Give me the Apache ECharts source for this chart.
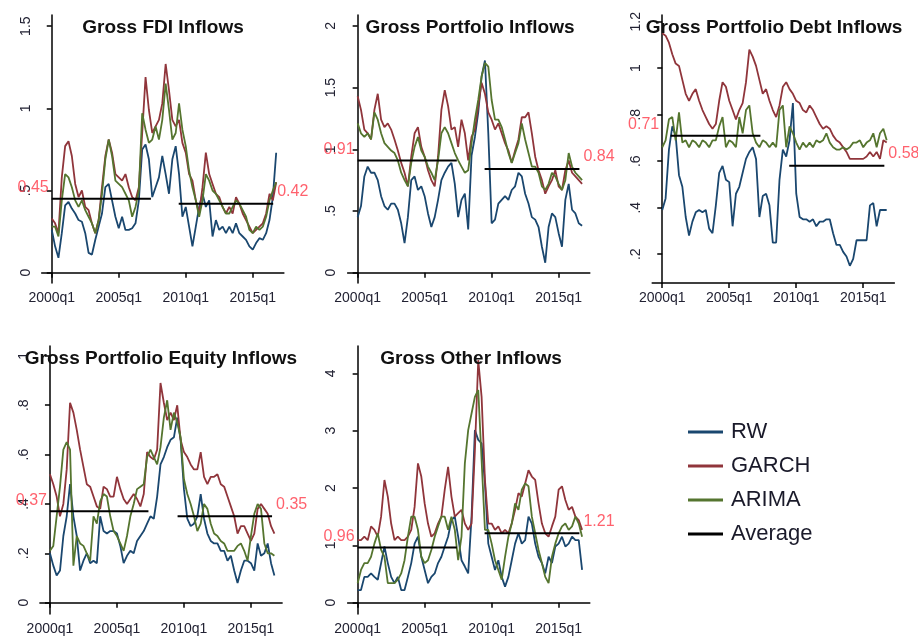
<!DOCTYPE html>
<html>
<head>
<meta charset="utf-8">
<script src="https://cdn.jsdelivr.net/npm/echarts@6/dist/echarts.min.js"></script>
<style>
  html, body { margin: 0; padding: 0; background: #fff; }
  #chart { width: 918px; height: 643px; }
</style>
</head>
<body>
<div id="chart"></div>
<script>
// quarter index 0 = 2000q1 ... 67 = 2016q4
const xTicks = [0, 20, 40, 60];

// Gross FDI Inflows
const fdiRW = [0.26,0.16,0.09,0.24,0.41,0.43,0.39,0.36,0.32,0.31,0.24,0.12,0.11,0.2,0.28,0.36,0.52,0.54,0.44,0.34,0.27,0.34,0.26,0.26,0.27,0.3,0.44,0.75,0.78,0.69,0.46,0.52,0.58,0.71,0.6,0.48,0.69,0.77,0.6,0.34,0.4,0.28,0.16,0.28,0.4,0.48,0.4,0.44,0.22,0.32,0.26,0.28,0.24,0.28,0.24,0.3,0.24,0.22,0.2,0.16,0.14,0.18,0.21,0.2,0.24,0.32,0.46,0.73];
const fdiGARCH = [0.33,0.3,0.24,0.58,0.77,0.8,0.71,0.54,0.46,0.5,0.4,0.38,0.3,0.24,0.32,0.52,0.71,0.81,0.73,0.6,0.58,0.56,0.6,0.52,0.46,0.44,0.52,0.85,1.19,0.99,0.85,0.89,0.93,1.03,1.27,1.11,0.93,0.89,0.93,0.79,0.73,0.6,0.56,0.44,0.36,0.52,0.73,0.6,0.54,0.48,0.46,0.4,0.36,0.4,0.36,0.46,0.42,0.36,0.32,0.28,0.24,0.26,0.28,0.3,0.36,0.48,0.44,0.55];
const fdiARIMA = [0.28,0.28,0.22,0.44,0.6,0.58,0.52,0.44,0.4,0.44,0.38,0.34,0.3,0.24,0.32,0.48,0.69,0.81,0.71,0.56,0.54,0.52,0.48,0.44,0.34,0.4,0.5,0.97,0.87,0.79,0.81,0.89,0.81,0.93,1.15,0.99,0.81,0.85,1.03,0.87,0.77,0.62,0.52,0.44,0.34,0.44,0.6,0.56,0.5,0.48,0.44,0.4,0.36,0.36,0.4,0.44,0.42,0.38,0.34,0.26,0.24,0.28,0.26,0.28,0.34,0.44,0.5,0.55];
const fdiTicks = [0, 0.5, 1, 1.5];

// Gross Portfolio Inflows
const portRW = [0.45,0.54,0.78,0.86,0.81,0.81,0.75,0.62,0.54,0.51,0.56,0.56,0.51,0.4,0.24,0.45,0.75,0.78,0.67,0.7,0.62,0.48,0.37,0.45,0.59,0.75,0.81,0.86,0.89,0.72,0.45,0.59,0.64,0.35,0.95,1.1,1.3,1.59,1.72,1.13,0.4,0.43,0.56,0.59,0.62,0.59,0.67,0.7,0.81,0.78,0.64,0.56,0.45,0.43,0.37,0.21,0.08,0.37,0.48,0.45,0.32,0.21,0.59,0.72,0.51,0.48,0.4,0.38];
const portGARCH = [1.43,1.32,1.16,1.13,1.08,1.32,1.45,1.24,1.18,1.21,1.16,1.08,0.99,0.89,0.81,0.7,0.94,1.13,1.18,1.02,0.94,0.83,0.75,0.7,0.94,1.32,1.48,1.35,1.16,1.18,1.02,1.24,1.13,0.91,1.1,1.16,1.35,1.54,1.45,1.3,1.24,1.16,1.21,1.13,1.05,0.99,0.89,0.99,1.08,1.26,1.26,1.3,1.13,0.94,0.83,0.75,0.64,0.7,0.75,0.83,0.7,0.67,0.83,0.91,0.81,0.78,0.75,0.72];
const portARIMA = [1.21,1.13,1.1,1.13,1.08,1.3,1.24,1.13,1.05,1.02,0.99,0.97,0.91,0.81,0.75,0.7,0.89,1.02,1.1,0.99,0.94,0.86,0.81,0.75,0.91,1.13,1.18,1.13,1.05,0.97,0.91,0.86,0.81,0.83,1.05,1.24,1.4,1.59,1.7,1.67,1.4,1.24,1.24,1.18,1.08,0.97,0.89,0.97,1.05,1.21,1.08,0.97,0.86,0.86,0.81,0.7,0.67,0.72,0.81,0.78,0.72,0.67,0.75,0.97,0.86,0.81,0.78,0.75];
const portTicks = [0, 0.5, 1, 1.5, 2];

// Gross Portfolio Debt Inflows
const debtRW = [0.39,0.44,0.65,0.75,0.71,0.54,0.49,0.36,0.28,0.34,0.38,0.39,0.38,0.39,0.31,0.29,0.41,0.55,0.58,0.52,0.51,0.32,0.46,0.49,0.55,0.61,0.64,0.66,0.61,0.36,0.45,0.46,0.41,0.25,0.25,0.52,0.65,0.62,0.69,0.85,0.46,0.36,0.35,0.35,0.34,0.35,0.32,0.34,0.34,0.35,0.35,0.29,0.24,0.24,0.21,0.19,0.15,0.18,0.26,0.26,0.26,0.26,0.41,0.42,0.32,0.39,0.39,0.39];
const debtGARCH = [1.15,1.14,1.11,1.06,1.02,1.01,0.95,0.89,0.86,0.89,0.91,0.86,0.82,0.79,0.76,0.74,0.76,0.86,0.94,0.92,0.86,0.82,0.78,0.82,0.85,0.94,1.08,1.05,1.01,0.95,0.89,0.91,0.86,0.82,0.79,0.84,0.92,0.94,0.91,0.89,0.86,0.85,0.82,0.81,0.84,0.82,0.79,0.76,0.74,0.75,0.74,0.71,0.69,0.68,0.66,0.64,0.61,0.61,0.61,0.61,0.61,0.62,0.64,0.62,0.64,0.61,0.69,0.68];
const debtARIMA = [0.66,0.69,0.78,0.79,0.69,0.81,0.68,0.69,0.66,0.69,0.68,0.66,0.69,0.68,0.66,0.69,0.69,0.75,0.79,0.66,0.69,0.68,0.66,0.79,0.72,0.82,0.84,0.72,0.68,0.66,0.69,0.68,0.66,0.68,0.66,0.82,0.84,0.66,0.75,0.72,0.68,0.65,0.68,0.66,0.68,0.66,0.69,0.68,0.69,0.72,0.68,0.66,0.65,0.65,0.66,0.65,0.66,0.68,0.68,0.69,0.66,0.68,0.69,0.72,0.66,0.72,0.74,0.69];
const debtTicks = [0.2, 0.4, 0.6, 0.8, 1, 1.2];

// Gross Portfolio Equity Inflows
const equityRW = [0.2,0.15,0.11,0.13,0.27,0.35,0.48,0.35,0.27,0.13,0.17,0.2,0.16,0.17,0.16,0.35,0.29,0.28,0.29,0.29,0.28,0.23,0.16,0.19,0.21,0.2,0.25,0.27,0.29,0.32,0.35,0.34,0.43,0.56,0.59,0.63,0.66,0.67,0.75,0.66,0.46,0.34,0.31,0.32,0.35,0.44,0.34,0.28,0.25,0.24,0.24,0.21,0.21,0.17,0.19,0.13,0.08,0.13,0.17,0.17,0.16,0.13,0.24,0.19,0.2,0.24,0.16,0.11];
const equityGARCH = [0.52,0.48,0.43,0.35,0.4,0.54,0.81,0.77,0.7,0.62,0.55,0.48,0.47,0.43,0.39,0.38,0.47,0.46,0.43,0.43,0.51,0.46,0.42,0.4,0.42,0.44,0.42,0.39,0.44,0.61,0.59,0.58,0.62,0.89,0.81,0.74,0.77,0.74,0.8,0.66,0.61,0.59,0.56,0.54,0.54,0.61,0.51,0.48,0.51,0.51,0.52,0.48,0.47,0.43,0.39,0.35,0.28,0.31,0.31,0.28,0.25,0.28,0.38,0.4,0.38,0.36,0.31,0.28];
const equityARIMA = [0.21,0.23,0.35,0.47,0.62,0.65,0.62,0.15,0.27,0.24,0.23,0.2,0.17,0.35,0.32,0.41,0.44,0.43,0.35,0.29,0.27,0.24,0.21,0.27,0.35,0.4,0.46,0.47,0.48,0.59,0.62,0.59,0.56,0.63,0.75,0.82,0.7,0.77,0.73,0.67,0.5,0.44,0.4,0.35,0.29,0.32,0.4,0.38,0.32,0.28,0.27,0.25,0.24,0.21,0.21,0.21,0.23,0.24,0.21,0.17,0.27,0.36,0.4,0.38,0.24,0.2,0.2,0.19];
const equityTicks = [0, 0.2, 0.4, 0.6, 0.8, 1];

// Gross Other Inflows
const otherRW = [0.22,0.22,0.45,0.45,0.51,0.45,0.4,0.69,0.98,0.69,0.45,0.34,0.45,0.22,0.22,0.45,0.69,1.03,1.15,0.8,0.57,0.34,0.45,0.51,0.69,0.8,0.98,1.15,1.44,1.5,1.15,0.74,0.63,0.51,1.5,3.01,2.84,2.78,2.08,1.03,0.8,0.57,0.74,0.45,0.28,0.45,0.74,1.03,1.21,1.03,1.09,1.5,1.38,1.03,0.8,0.69,0.51,0.8,0.69,0.98,1.03,1.15,0.98,1.03,1.15,1.09,1.09,0.57];
const otherGARCH = [1.09,1.09,1.15,1.09,1.33,1.27,1.15,1.5,2.14,1.85,1.38,1.09,1.15,1.09,1.09,1.15,1.27,1.67,2.43,2.2,1.73,1.38,1.15,1.21,1.38,1.5,1.97,2.37,1.85,1.5,1.56,1.62,1.38,1.27,1.38,2.66,4.23,3.59,2.14,1.38,1.38,1.27,1.33,1.21,1.27,1.21,1.38,1.62,1.91,1.85,2.08,2.31,2.2,2.14,1.73,1.38,1.21,1.15,1.33,1.5,1.97,2.03,1.79,1.62,1.67,1.5,1.44,1.27];
const otherARIMA = [0.34,0.57,0.69,0.69,0.8,1.03,1.21,0.92,0.8,0.34,0.34,0.34,0.4,0.51,0.74,1.15,1.5,1.5,1.27,0.8,0.69,0.74,0.92,1.15,1.33,1.5,1.5,1.27,1.5,1.27,0.74,1.15,2.43,3.01,3.3,3.59,3.71,2.49,1.27,1.27,1.03,0.74,0.57,0.4,0.8,1.15,1.38,1.73,1.62,1.97,2.08,2.03,1.5,1.21,0.92,0.69,0.45,0.34,0.8,1.03,1.21,1.33,1.38,1.27,1.33,1.5,1.38,1.15];
const otherTicks = [0, 1, 2, 3, 4];

// period averages (early and late sub-samples) and their spans in quarters
const avgEarly = [0.45, 0.91, 0.71, 0.37, 0.96];
const avgLate = [0.42, 0.84, 0.58, 0.35, 1.21];
const avgEarlyFrom = [0, 0, 2.5, 0, 0];
const avgEarlyTo = [29.6, 29.6, 29.3, 29.4, 29.6];
const avgLateFrom = [37.9, 37.9, 37.9, 38.1, 37.9];
const avgLateTo = [66.1, 66.2, 66.3, 66.3, 66.2];

const titles = ['Gross FDI Inflows', 'Gross Portfolio Inflows', 'Gross Portfolio Debt Inflows',
  'Gross Portfolio Equity Inflows', 'Gross Other Inflows'];
const modelNames = ['RW', 'GARCH', 'ARIMA'];

// layout of each small graph (pixels / axis ranges)
const panels = [
  { left: 41.7, top: 15, yMin: -0.063, yMax: 1.568, ticks: fdiTicks, data: [fdiRW, fdiGARCH, fdiARIMA], titleX: 163 },
  { left: 347.6, top: 15, yMin: -0.084, yMax: 2.089, ticks: portTicks, data: [portRW, portGARCH, portARIMA], titleX: 470 },
  { left: 652.2, top: 15, yMin: 0.076, yMax: 1.229, ticks: debtTicks, data: [debtRW, debtGARCH, debtARIMA], titleX: 774 },
  { left: 39.9, top: 346, yMin: -0.046, yMax: 1.04, ticks: equityTicks, data: [equityRW, equityGARCH, equityARIMA], titleX: 161 },
  { left: 347.6, top: 346, yMin: -0.198, yMax: 4.477, ticks: otherTicks, data: [otherRW, otherGARCH, otherARIMA], titleX: 471 },
];

const colors = ['#1a476f', '#90353b', '#55752f'];
const axisColor = '#000000';
const textColor = '#222233';
const labelRed = '#ff3a48';
const fontFamily = '"Liberation Sans", Arial, sans-serif';

const quarterLabel = (q) => (2000 + Math.floor(q / 4)) + 'q' + ((q % 4) + 1);
const tickLabel = (v) => String(+v.toFixed(2)).replace(/^0\./, '.');

const grid = [];
const xAxis = [];
const yAxis = [];
const series = [];
const title = [];

panels.forEach((p, i) => {
  grid.push({ left: p.left, top: p.top, width: 242.2, height: 268 });
  title.push({
    text: titles[i],
    left: p.titleX,
    top: p.top + 3,
    textAlign: 'center',
    padding: 0,
    textStyle: { fontFamily, fontSize: 19, fontWeight: 'bold', color: '#111111' },
  });
  xAxis.push({
    gridIndex: i,
    type: 'value',
    min: -3,
    max: 69.3,
    axisLine: { lineStyle: { color: axisColor, width: 1.5 } },
    axisTick: { customValues: xTicks, length: 5, lineStyle: { color: axisColor, width: 1.5 } },
    axisLabel: {
      customValues: xTicks,
      formatter: quarterLabel,
      margin: 8,
      fontFamily,
      fontSize: 14,
      color: textColor,
    },
    splitLine: { show: false },
  });
  yAxis.push({
    gridIndex: i,
    type: 'value',
    min: p.yMin,
    max: p.yMax,
    axisLine: { show: true, lineStyle: { color: axisColor, width: 1.5 } },
    axisTick: { show: true, customValues: p.ticks, length: 5, lineStyle: { color: axisColor, width: 1.5 } },
    axisLabel: {
      customValues: p.ticks,
      formatter: tickLabel,
      rotate: 90,
      margin: 9,
      fontFamily,
      fontSize: 14,
      color: textColor,
    },
    splitLine: { show: false },
  });
  modelNames.forEach((name, k) => {
    series.push({
      type: 'line',
      name,
      xAxisIndex: i,
      yAxisIndex: i,
      data: p.data[k].map((v, q) => [q, v]),
      symbol: 'none',
      showSymbol: false,
      color: colors[k],
      lineStyle: { width: 1.8, color: colors[k] },
      silent: true,
    });
  });
  [[avgEarlyFrom[i], avgEarlyTo[i], avgEarly[i]], [avgLateFrom[i], avgLateTo[i], avgLate[i]]].forEach(([a, b, v]) => {
    series.push({
      type: 'line',
      name: 'Average',
      xAxisIndex: i,
      yAxisIndex: i,
      data: [[a, v], [b, v]],
      symbol: 'none',
      color: '#000000',
      lineStyle: { width: 2, color: '#000000' },
      silent: true,
      z: 3,
    });
  });
  series.push({
    type: 'scatter',
    xAxisIndex: i,
    yAxisIndex: i,
    symbolSize: 0,
    silent: true,
    z: 4,
    label: {
      show: true,
      formatter: (d) => d.value[1].toFixed(2),
      fontFamily,
      fontSize: 16,
      color: labelRed,
    },
    data: [
      { value: [0, avgEarly[i]], label: { position: 'left', distance: 3, offset: [0, -11] } },
      { value: [avgLateTo[i], avgLate[i]], label: { position: 'right', distance: 4, offset: [0, -12] } },
    ],
  });
});

const chart = echarts.init(document.getElementById('chart'));
chart.setOption({
  animation: false,
  backgroundColor: '#ffffff',
  title,
  grid,
  xAxis,
  yAxis,
  series,
  legend: {
    data: ['RW', 'GARCH', 'ARIMA', 'Average'],
    orient: 'vertical',
    left: 688,
    top: 421,
    padding: 0,
    icon: 'rect',
    itemWidth: 35,
    itemHeight: 3,
    itemGap: 12,
    selectedMode: false,
    textStyle: { fontFamily, fontSize: 22, color: '#1a1a2a', padding: [0, 0, 0, 3] },
  },
});
</script>
</body>
</html>
